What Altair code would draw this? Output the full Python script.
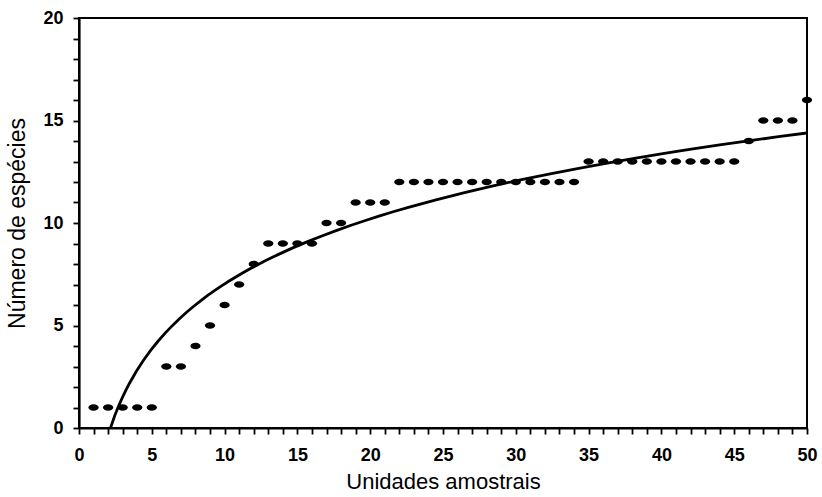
import altair as alt
import pandas as pd

unidades = list(range(1, 51))
especies = [1, 1, 1, 1, 1, 3, 3, 4, 5, 6,
            7, 8, 9, 9, 9, 9, 10, 10, 11, 11,
            11, 12, 12, 12, 12, 12, 12, 12, 12, 12,
            12, 12, 12, 12, 13, 13, 13, 13, 13, 13,
            13, 13, 13, 13, 13, 14, 15, 15, 15, 16]
x_ticks = list(range(0, 51))
y_ticks = list(range(0, 21))

df = pd.DataFrame({"x": unidades, "y": especies})

FONT = "Liberation Sans"

xscale = alt.Scale(domain=[0, 50], nice=False, zero=True)
yscale = alt.Scale(domain=[0, 20], nice=False)

lab = "datum.value % 5 == 0 ? datum.label : ''"
xaxis = alt.Axis(title="Unidades amostrais", values=x_ticks, labelExpr=lab)
yaxis = alt.Axis(title="Número de espécies", values=y_ticks, labelExpr=lab)

ellipse = "M-1,0A1,0.65 0 1,0 1,0A1,0.65 0 1,0 -1,0Z"

points = alt.Chart(df).mark_point(
    shape=ellipse, filled=True, color="black", size=105, opacity=1
).encode(
    x=alt.X("x:Q", scale=xscale, axis=xaxis),
    y=alt.Y("y:Q", scale=yscale, axis=yaxis),
)

curve = alt.Chart(df).transform_regression(
    "x", "y", method="log"
).mark_line(clip=True, color="black", strokeWidth=2.8).encode(
    x=alt.X("x:Q", scale=xscale, axis=xaxis),
    y=alt.Y("y:Q", scale=yscale, axis=yaxis),
)

chart = alt.layer(curve, points).properties(
    width=728, height=410,
    background="white",
    autosize=alt.AutoSizeParams(type="none"),
    padding={"left": 79, "top": 18, "right": 15, "bottom": 69},
).configure_view(
    stroke="black", strokeWidth=2
).configure_axis(
    grid=False, ticks=True, tickSize=6, tickWidth=1.8, domainWidth=2.2,
    domainColor="black", tickColor="black",
    labelFont=FONT, labelFontSize=18, labelFontWeight="bold", labelColor="black",
    labelFlush=False, labelOverlap=False,
    titleFont=FONT, titleFontWeight="normal", titleColor="black",
).configure_axisX(
    labelPadding=12, titlePadding=7, titleFontSize=22
).configure_axisY(
    labelPadding=10, titlePadding=13, titleFontSize=23
)

chart.save("out.html", embed_options={"renderer": "svg", "actions": False})
